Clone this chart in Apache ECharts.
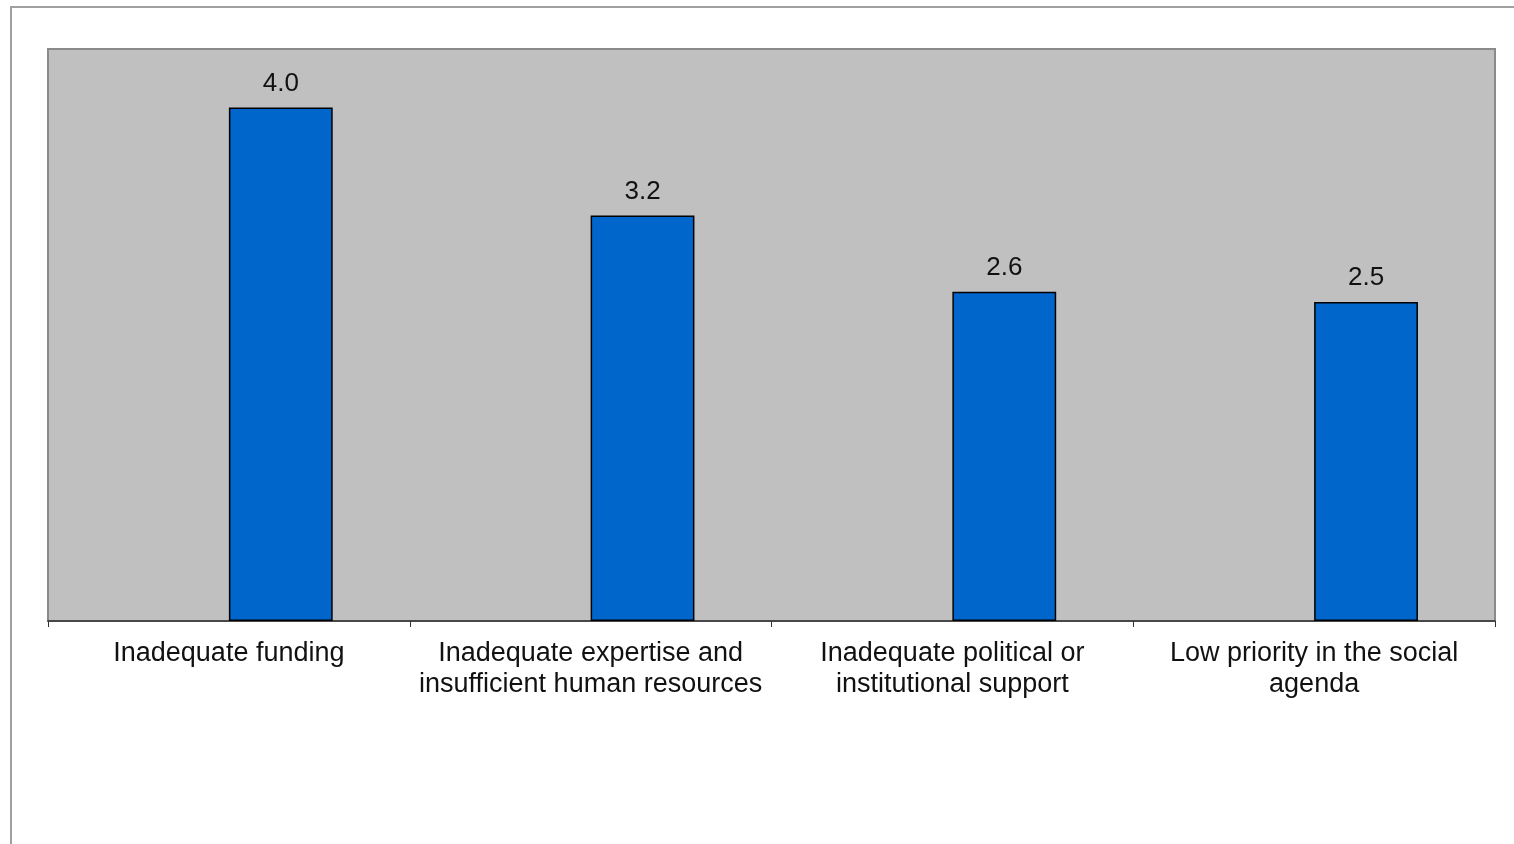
<!DOCTYPE html>
<html>
<head>
<meta charset="utf-8">
<style>
html,body{margin:0;padding:0;background:#fff;}
#chart{width:1514px;height:844px;}
</style>
<script src="https://cdn.jsdelivr.net/npm/echarts@6/dist/echarts.min.js"></script>
</head>
<body>
<div id="chart"></div>
<script>
const categories = [
  "Inadequate funding",
  "Inadequate expertise and\ninsufficient human resources",
  "Inadequate political or\ninstitutional support",
  "Low priority in the social\nagenda"
];
// empty first series (the original chart leaves its slot blank, shifting bars right)
const blankSeries = [null, null, null, null];
const values = [4.04, 3.19, 2.59, 2.51];
const yMax = 4.5;

const chart = echarts.init(document.getElementById('chart'), null, {renderer: 'canvas'});
chart.setOption({
  animation: false,
  backgroundColor: '#ffffff',
  graphic: [{
    type: 'rect',
    shape: {x: 11, y: 7, width: 1700, height: 1000},
    style: {fill: 'none', stroke: '#a0a0a0', lineWidth: 2},
    silent: true, z: -1
  }],
  grid: {
    left: 48, right: 19, top: 49, bottom: 223,
    show: true, backgroundColor: '#c0c0c0', borderColor: '#8a8a8a', borderWidth: 2
  },
  xAxis: {
    type: 'category',
    data: categories,
    axisLine: {lineStyle: {color: '#333333', width: 1.5}},
    axisTick: {show: true, length: 6, inside: false, lineStyle: {color: '#333333'}},
    axisLabel: {
      interval: 0, color: '#111111', fontFamily: 'Liberation Sans, Arial, sans-serif',
      fontSize: 27, lineHeight: 31, margin: 17
    }
  },
  yAxis: {
    type: 'value', min: 0, max: yMax,
    show: false,
    splitLine: {show: false}
  },
  series: [{
    type: 'bar',
    data: blankSeries,
    barWidth: '28.7%',
    barGap: '0%',
    itemStyle: {color: 'transparent'}
  }, {
    type: 'bar',
    data: values,
    barWidth: '28.7%',
    barGap: '0%',
    itemStyle: {color: '#0066cc', borderColor: '#000000', borderWidth: 1.5},
    label: {
      show: true, position: 'top', distance: 11,
      color: '#111111', fontFamily: 'Liberation Sans, Arial, sans-serif', fontSize: 26,
      formatter: p => p.value.toFixed(1)
    }
  }]
});
</script>
</body>
</html>
